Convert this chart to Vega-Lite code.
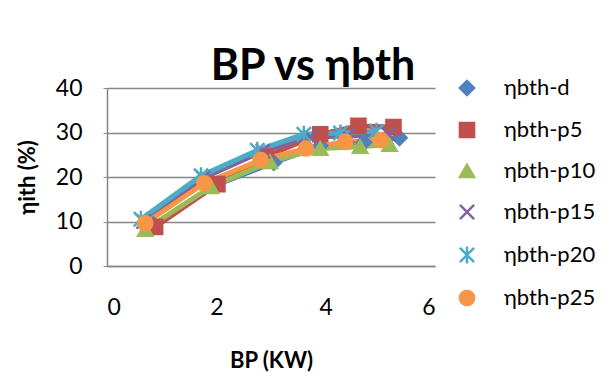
{
  "$schema": "https://vega.github.io/schema/vega-lite/v6.json",
  "autosize": {"type": "none"},
  "width": 328,
  "height": 178,
  "padding": {"left": 107, "top": 88, "right": 177, "bottom": 113},
  "background": "white",
  "title": {"text": "BP vs ηbth", "fontSize": 43, "font": "Lato", "fontWeight": "bold", "color": "black", "anchor": "middle", "dx": 42, "dy": 18, "offset": 6},
  "config": {
    "view": {"stroke": null},
    "font": "Lato"
  },
  "data": {"values": [
    {"s": "ηbth-d", "bp": 0.85, "eta": 9.3},
    {"s": "ηbth-d", "bp": 2.0, "eta": 18.2},
    {"s": "ηbth-d", "bp": 3.05, "eta": 23.2},
    {"s": "ηbth-d", "bp": 3.9, "eta": 27.0},
    {"s": "ηbth-d", "bp": 4.7, "eta": 27.8},
    {"s": "ηbth-d", "bp": 5.35, "eta": 28.8},
    {"s": "ηbth-p5", "bp": 0.88, "eta": 8.8},
    {"s": "ηbth-p5", "bp": 2.02, "eta": 18.4},
    {"s": "ηbth-p5", "bp": 2.9, "eta": 24.6},
    {"s": "ηbth-p5", "bp": 3.9, "eta": 29.6},
    {"s": "ηbth-p5", "bp": 4.6, "eta": 31.5},
    {"s": "ηbth-p5", "bp": 5.24, "eta": 31.2},
    {"s": "ηbth-p10", "bp": 0.7, "eta": 8.2},
    {"s": "ηbth-p10", "bp": 1.9, "eta": 17.8},
    {"s": "ηbth-p10", "bp": 2.98, "eta": 23.4},
    {"s": "ηbth-p10", "bp": 3.9, "eta": 26.4},
    {"s": "ηbth-p10", "bp": 4.63, "eta": 26.8},
    {"s": "ηbth-p10", "bp": 5.17, "eta": 27.3},
    {"s": "ηbth-p15", "bp": 0.67, "eta": 10.0},
    {"s": "ηbth-p15", "bp": 1.76, "eta": 19.8},
    {"s": "ηbth-p15", "bp": 2.85, "eta": 25.8},
    {"s": "ηbth-p15", "bp": 3.72, "eta": 29.0},
    {"s": "ηbth-p15", "bp": 4.4, "eta": 29.2},
    {"s": "ηbth-p15", "bp": 5.15, "eta": 29.6},
    {"s": "ηbth-p20", "bp": 0.62, "eta": 10.5},
    {"s": "ηbth-p20", "bp": 1.72, "eta": 20.3},
    {"s": "ηbth-p20", "bp": 2.75, "eta": 26.0},
    {"s": "ηbth-p20", "bp": 3.6, "eta": 29.6},
    {"s": "ηbth-p20", "bp": 4.27, "eta": 29.9},
    {"s": "ηbth-p20", "bp": 4.93, "eta": 30.3},
    {"s": "ηbth-p25", "bp": 0.7, "eta": 9.6},
    {"s": "ηbth-p25", "bp": 1.78, "eta": 18.6},
    {"s": "ηbth-p25", "bp": 2.81, "eta": 23.8},
    {"s": "ηbth-p25", "bp": 3.64, "eta": 26.4},
    {"s": "ηbth-p25", "bp": 4.36, "eta": 27.9},
    {"s": "ηbth-p25", "bp": 5.01, "eta": 28.3}
  ]},
  "encoding": {
    "x": {"field": "bp", "type": "quantitative",
      "scale": {"domain": [0, 6], "nice": false, "zero": false},
      "axis": {"values": [0, 2, 4, 6], "title": "BP (KW)", "grid": false, "ticks": false,
        "domainColor": "#868686", "domainWidth": 1.5, "labelFontSize": 23, "labelColor": "black",
        "labelPadding": 30, "titleFontSize": 22, "titleFontWeight": "bold", "titleColor": "black", "titlePadding": 31}},
    "y": {"field": "eta", "type": "quantitative",
      "scale": {"domain": [0, 40], "nice": false},
      "axis": {"values": [0, 10, 20, 30, 40], "title": "ηith (%)", "grid": true, "gridColor": "#868686", "gridWidth": 1.5,
        "ticks": true, "tickSize": 4, "tickColor": "#868686",
        "domainColor": "#868686", "domainWidth": 1.5, "labelFontSize": 23, "labelColor": "black",
        "labelPadding": 21, "titleFontSize": 22, "titleFontWeight": "bold", "titleColor": "black", "titlePadding": 16}}
  },
  "layer": [
    {"mark": {"type": "line", "strokeWidth": 5},
      "encoding": {
        "color": {"field": "s", "type": "nominal",
          "scale": {"domain": ["ηbth-d", "ηbth-p5", "ηbth-p10", "ηbth-p15", "ηbth-p20", "ηbth-p25"],
            "range": ["#4F81BD", "#C0504D", "#9BBB59", "#8064A2", "#4BACC6", "#F79646"]},
          "legend": {"orient": "none", "legendX": 349, "legendY": -11, "title": null,
            "symbolSize": 200, "labelFontSize": 22, "labelColor": "black", "labelOffset": 26, "rowPadding": 16,
            "encode": {"symbols": {"update": {
              "strokeWidth": {"value": 2.5},
              "fill": {"signal": "scale('color', datum.value)"},
              "stroke": {"signal": "scale('color', datum.value)"},
              "opacity": {"value": 1}
            }}}}
        }
      }
    },
    {"mark": {"type": "point", "filled": true, "size": 200, "opacity": 1, "strokeWidth": 2.5},
      "encoding": {
        "fill": {"field": "s", "type": "nominal", "legend": null,
          "scale": {"domain": ["ηbth-d", "ηbth-p5", "ηbth-p10", "ηbth-p15", "ηbth-p20", "ηbth-p25"],
            "range": ["#4F81BD", "#C0504D", "#9BBB59", "#8064A2", "#4BACC6", "#F79646"]}},
        "stroke": {"field": "s", "type": "nominal", "legend": null,
          "scale": {"domain": ["ηbth-d", "ηbth-p5", "ηbth-p10", "ηbth-p15", "ηbth-p20", "ηbth-p25"],
            "range": ["#4F81BD", "#C0504D", "#9BBB59", "#8064A2", "#4BACC6", "#F79646"]}},
        "shape": {"field": "s", "type": "nominal", "legend": null,
          "scale": {"domain": ["ηbth-d", "ηbth-p5", "ηbth-p10", "ηbth-p15", "ηbth-p20", "ηbth-p25"],
            "range": ["diamond", "square", "triangle-up", "M-1,-1L1,1M-1,1L1,-1", "M-1,-1L1,1M-1,1L1,-1M0,-1.2L0,1.2", "circle"]}}
      }
    }
  ]
}
